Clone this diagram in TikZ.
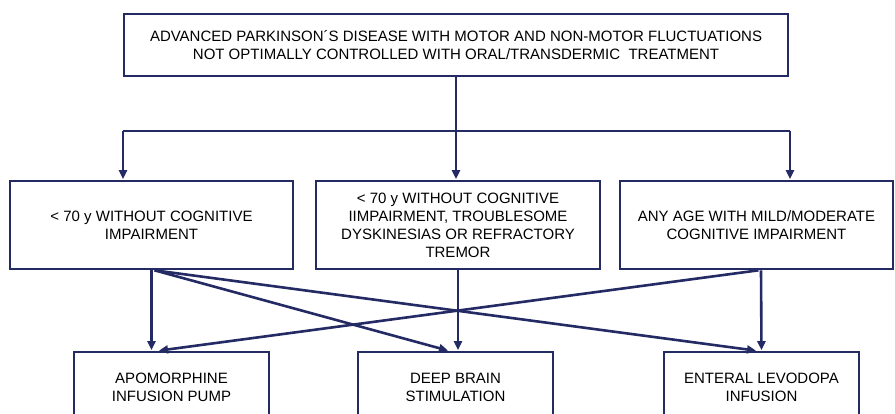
\documentclass[tikz,border=0pt]{standalone}
\usepackage{fontspec}
\setmainfont{Liberation Sans}
\usetikzlibrary{arrows.meta}
\definecolor{navy}{RGB}{35,42,100}
\begin{document}
\begin{tikzpicture}[x=1pt,y=-1pt,
  box/.style={draw=navy, line width=2.6pt, align=center, inner sep=0pt,
    font=\fontsize{15}{18}\selectfont, text=black},
  conn/.style={draw=navy, line width=2.6pt},
  arr/.style={conn, -{Triangle[length=9pt,width=8pt]}, shorten >=0.5pt}]
\useasboundingbox (0,0) rectangle (895,413);
\node[box, minimum width=664, minimum height=62] (top) at (456,45)
  {ADVANCED PARKINSON´S DISEASE WITH MOTOR AND NON-MOTOR FLUCTUATIONS\\
   NOT OPTIMALLY CONTROLLED WITH ORAL/TRANSDERMIC\ \ TREATMENT};
\node[box, minimum width=283, minimum height=88] (L) at (151.5,225)
  {{<} 70 y WITHOUT COGNITIVE\\IMPAIRMENT};
\node[box, minimum width=284, minimum height=88] (M) at (458,225)
  {{<} 70 y WITHOUT COGNITIVE\\IIMPAIRMENT, TROUBLESOME\\DYSKINESIAS OR REFRACTORY\\TREMOR};
\node[box, minimum width=273, minimum height=88] (R) at (756.5,225)
  {ANY AGE WITH MILD/MODERATE\\COGNITIVE IMPAIRMENT};
\node[box, minimum width=195, minimum height=70] (APO) at (171.5,387)
  {APOMORPHINE\\INFUSION PUMP};
\node[box, minimum width=195, minimum height=70] (DBS) at (455.5,387)
  {DEEP BRAIN\\STIMULATION};
\node[box, minimum width=195, minimum height=70] (ENT) at (761.5,387)
  {ENTERAL LEVODOPA\\INFUSION};
\coordinate (hub) at (456,131);
\coordinate (jl) at (123,131);
\coordinate (jr) at (790,131);
\draw[conn] (top.south) -- (hub);
\draw[conn] (jl) -- (jr);
\draw[arr] (jl) -- (jl |- L.north);
\draw[arr] (hub) -- (hub |- M.north);
\draw[arr] (jr) -- (jr |- R.north);
\draw[arr] (L.south) -- (L.south |- APO.north);
\draw[arr] ([xshift=3]L.south) -- ([xshift=-7]DBS.north);
\draw[arr] ([xshift=3]L.south) -- ([xshift=-5]ENT.north);
\draw[arr] (M.south) -- (M.south |- DBS.north);
\draw[arr] ([xshift=4.5]R.south) -- (ENT.north);
\draw[arr] ([xshift=2]R.south) -- ([xshift=-13]APO.north);
\end{tikzpicture}
\end{document}
